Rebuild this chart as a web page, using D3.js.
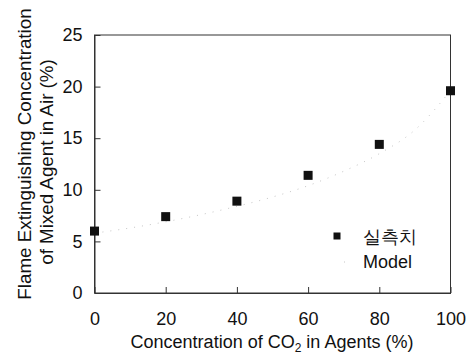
<!DOCTYPE html>
<html>
<head>
<meta charset="utf-8">
<script src="https://cdn.jsdelivr.net/npm/d3@7"></script>
<style>
  html, body { margin: 0; padding: 0; background: #fff; }
  svg { display: block; }
  text { font-family: "Liberation Sans", Arial, sans-serif; fill: #111; }
</style>
</head>
<body>
<svg id="chart" width="472" height="356"></svg>
<script>
// Measured extinguishing concentration vs CO2 fraction in the agent
const co2Share = [0, 20, 40, 60, 80, 100];
const measured = [6.0, 7.4, 8.9, 11.4, 14.4, 19.6];

// Model curve
const modelShare = [0, 10, 20, 30, 40, 50, 60, 70, 80, 90, 100];
const modelValues = [5.8, 6.3, 6.9, 7.6, 8.4, 9.3, 10.4, 11.8, 13.5, 15.8, 19.6];

const xTicks = [0, 20, 40, 60, 80, 100];
const yTicks = [0, 5, 10, 15, 20, 25];
const legendLabels = ["실측치", "Model"];

const svg = d3.select("#chart");
const m = { left: 94.5, top: 35, right: 450.5, bottom: 293 };

const x = d3.scaleLinear().domain([0, 100]).range([m.left, m.right]);
const y = d3.scaleLinear().domain([0, 25]).range([m.bottom, m.top]);

// frame
svg.append("rect")
  .attr("x", m.left).attr("y", m.top)
  .attr("width", m.right - m.left).attr("height", m.bottom - m.top)
  .attr("fill", "none").attr("stroke", "#333").attr("stroke-width", 1);

// axes with inward ticks
const yAxis = svg.append("g")
  .attr("transform", `translate(${m.left},0)`)
  .call(d3.axisLeft(y).tickValues(yTicks).tickSizeInner(-6).tickSizeOuter(0).tickPadding(12));
const xAxis = svg.append("g")
  .attr("transform", `translate(0,${m.bottom})`)
  .call(d3.axisBottom(x).tickValues(xTicks).tickSizeInner(-6).tickSizeOuter(0).tickPadding(19));

[yAxis, xAxis].forEach(g => {
  g.select(".domain").attr("stroke", "#333");
  g.selectAll(".tick line").attr("stroke", "#333");
  g.selectAll(".tick text")
    .attr("font-size", 18)
    .attr("font-family", "Liberation Sans, Arial, sans-serif")
    .attr("fill", "#111");
});

// model curve: faint dotted line
const line = d3.line()
  .x((d, i) => x(modelShare[i]))
  .y(d => y(d))
  .curve(d3.curveMonotoneX);
svg.append("path")
  .datum(modelValues)
  .attr("d", line)
  .attr("fill", "none")
  .attr("stroke", "#c6c6c6")
  .attr("stroke-width", 1)
  .attr("stroke-dasharray", "1 7");

// measured points
const s = 9;
svg.append("g").selectAll("rect")
  .data(measured)
  .join("rect")
  .attr("x", (d, i) => x(co2Share[i]) - s / 2)
  .attr("y", d => y(d) - s / 2)
  .attr("width", s).attr("height", s)
  .attr("fill", "#111");

// legend
const lg = svg.append("g");
lg.append("rect").attr("x", 333.5).attr("y", 232.5).attr("width", 7).attr("height", 7).attr("fill", "#111");
lg.append("text").attr("x", 363).attr("y", 243).attr("font-size", 18)
  .attr("font-family", "Noto Sans CJK KR, sans-serif").text(legendLabels[0]);
lg.append("line").attr("x1", 339).attr("x2", 352).attr("y1", 262).attr("y2", 262)
  .attr("stroke", "#c6c6c6").attr("stroke-dasharray", "1 7").attr("stroke-dashoffset", -5);
lg.append("text").attr("x", 363).attr("y", 268).attr("font-size", 18).text(legendLabels[1]);

// axis titles
const xt = svg.append("text")
  .attr("x", 272).attr("y", 348)
  .attr("text-anchor", "middle").attr("font-size", 18);
xt.append("tspan").text("Concentration of CO");
xt.append("tspan").attr("font-size", 12).attr("dy", 4).text("2");
xt.append("tspan").attr("dy", -4).text(" in Agents (%)");

const yt = svg.append("text")
  .attr("transform", "translate(31,154) rotate(-90)")
  .attr("text-anchor", "middle").attr("font-size", 18.8);
yt.append("tspan").attr("x", 0).attr("y", 0).text("Flame Extinguishing Concentration");
yt.append("tspan").attr("x", -8).attr("y", 22).text("of Mixed Agent in Air (%)");
</script>
</body>
</html>
